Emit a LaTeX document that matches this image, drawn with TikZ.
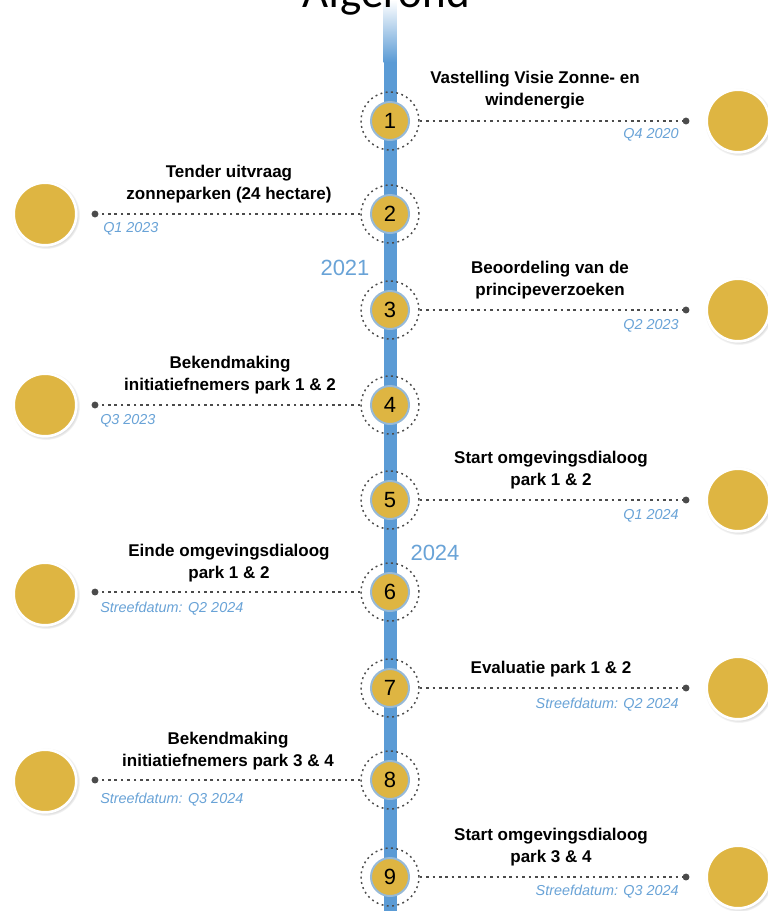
\documentclass[tikz,border=0pt]{standalone}
\usepackage{fontspec}
\setmainfont{Liberation Sans}
\newfontfamily\calibfont{Carlito}
\usetikzlibrary{shadows}
\definecolor{lineblue}{RGB}{91,155,213}
\definecolor{dateblue}{RGB}{105,163,215}
\definecolor{gold}{RGB}{222,181,66}
\definecolor{ringgray}{RGB}{75,75,75}
\definecolor{ringblue}{RGB}{150,185,215}
\begin{document}
\begin{tikzpicture}[x=0.75pt,y=-0.75pt,
 numc/.style={circle,fill=gold,draw=ringblue,line width=1.5pt,minimum size=28.5pt,inner sep=0pt,font=\fontsize{16.5}{18}\selectfont},
 ringc/.style={circle,draw=ringgray,line width=1.1pt,dash pattern=on 1.4pt off 2.6pt,minimum size=43.5pt,inner sep=0pt},
 endp/.style={circle,fill=ringgray,minimum size=5.2pt,inner sep=0pt},
 bigc/.style={circle,fill=gold,draw=white,line width=2pt,minimum size=47pt,inner sep=0pt,circular drop shadow={shadow xshift=0.6pt,shadow yshift=-0.6pt,opacity=0.45,shadow scale=1.09}},
 conn/.style={draw=ringgray,line width=1.1pt,dash pattern=on 2pt off 2.8pt},
 ttl/.style={font=\bfseries\fontsize{12.75}{16.5}\selectfont,align=center,anchor=base,inner sep=0pt},
 dte/.style={font=\itshape\fontsize{10.8}{13}\selectfont,text=dateblue,inner sep=0pt},
 yr/.style={font=\fontsize{16.5}{18}\selectfont,text=dateblue,anchor=base,inner sep=0pt}
]
\useasboundingbox (0,0) rectangle (768,911);
\fill[white] (0,0) rectangle (768,911);
% timeline
\shade[top color=white,bottom color=lineblue] (383.5,0) rectangle (396.5,62);
\fill[lineblue] (383.5,61.5) rectangle (396.5,911);
\node[font=\calibfont\fontsize{33.75}{36}\selectfont,anchor=base,inner sep=0pt] (title) at (386,7) {Afgerond};
% years
\node[yr] (y2021) at (345,275) {2021};
\node[yr] (y2024) at (435,560) {2024};

% 1 (right)
\node[ringc] (r1) at (390,121) {};
\node[numc] (n1) at (390,121) {1};
\node[endp] (d1) at (686,121) {};
\node[bigc] (b1) at (738,121) {};
\draw[conn] (r1.east) -- (d1.west);
\node[ttl] (t1) at (535,105) {Vastelling Visie Zonne- en\\windenergie};
\node[dte,anchor=base east] (q1) at (679,138) {Q4 2020};

% 2 (left)
\node[ringc] (r2) at (390,214) {};
\node[numc] (n2) at (390,214) {2};
\node[endp] (d2) at (95,214) {};
\node[bigc] (b2) at (45,214) {};
\draw[conn] (r2.west) -- (d2.east);
\node[ttl] (t2) at (229,199) {Tender uitvraag\\zonneparken (24 hectare)};
\node[dte,anchor=base west] (q2) at (103,232) {Q1 2023};

% 3 (right)
\node[ringc] (r3) at (390,310) {};
\node[numc] (n3) at (390,310) {3};
\node[endp] (d3) at (686,310) {};
\node[bigc] (b3) at (738,310) {};
\draw[conn] (r3.east) -- (d3.west);
\node[ttl] (t3) at (550,295) {Beoordeling van de\\principeverzoeken};
\node[dte,anchor=base east] (q3) at (679,329) {Q2 2023};

% 4 (left)
\node[ringc] (r4) at (390,405) {};
\node[numc] (n4) at (390,405) {4};
\node[endp] (d4) at (95,405) {};
\node[bigc] (b4) at (45,405) {};
\draw[conn] (r4.west) -- (d4.east);
\node[ttl] (t4) at (230,390) {Bekendmaking\\initiatiefnemers park 1 \& 2};
\node[dte,anchor=base west] (q4) at (100,424) {Q3 2023};

% 5 (right)
\node[ringc] (r5) at (390,500) {};
\node[numc] (n5) at (390,500) {5};
\node[endp] (d5) at (686,500) {};
\node[bigc] (b5) at (738,500) {};
\draw[conn] (r5.east) -- (d5.west);
\node[ttl] (t5) at (551,485) {Start omgevingsdialoog\\park 1 \& 2};
\node[dte,anchor=base east] (q5) at (679,519) {Q1 2024};

% 6 (left)
\node[ringc] (r6) at (390,592) {};
\node[numc] (n6) at (390,592) {6};
\node[endp] (d6) at (95,592) {};
\node[bigc] (b6) at (45,594) {};
\draw[conn] (r6.west) -- (d6.east);
\node[ttl] (t6) at (229,578) {Einde omgevingsdialoog\\park 1 \& 2};
\node[dte,anchor=base west] (q6) at (100,612) {Streefdatum: Q2 2024};

% 7 (right)
\node[ringc] (r7) at (390,688) {};
\node[numc] (n7) at (390,688) {7};
\node[endp] (d7) at (686,688) {};
\node[bigc] (b7) at (738,688) {};
\draw[conn] (r7.east) -- (d7.west);
\node[ttl] (t7) at (551,673) {Evaluatie park 1 \& 2};
\node[dte,anchor=base east] (q7) at (679,708) {Streefdatum: Q2 2024};

% 8 (left)
\node[ringc] (r8) at (390,780) {};
\node[numc] (n8) at (390,780) {8};
\node[endp] (d8) at (95,780) {};
\node[bigc] (b8) at (45,781) {};
\draw[conn] (r8.west) -- (d8.east);
\node[ttl] (t8) at (228,766) {Bekendmaking\\initiatiefnemers park 3 \& 4};
\node[dte,anchor=base west] (q8) at (100,803) {Streefdatum: Q3 2024};

% 9 (right)
\node[ringc] (r9) at (390,877) {};
\node[numc] (n9) at (390,877) {9};
\node[endp] (d9) at (686,877) {};
\node[bigc] (b9) at (738,877) {};
\draw[conn] (r9.east) -- (d9.west);
\node[ttl] (t9) at (551,862) {Start omgevingsdialoog\\park 3 \& 4};
\node[dte,anchor=base east] (q9) at (679,895) {Streefdatum: Q3 2024};
\end{tikzpicture}
\end{document}
